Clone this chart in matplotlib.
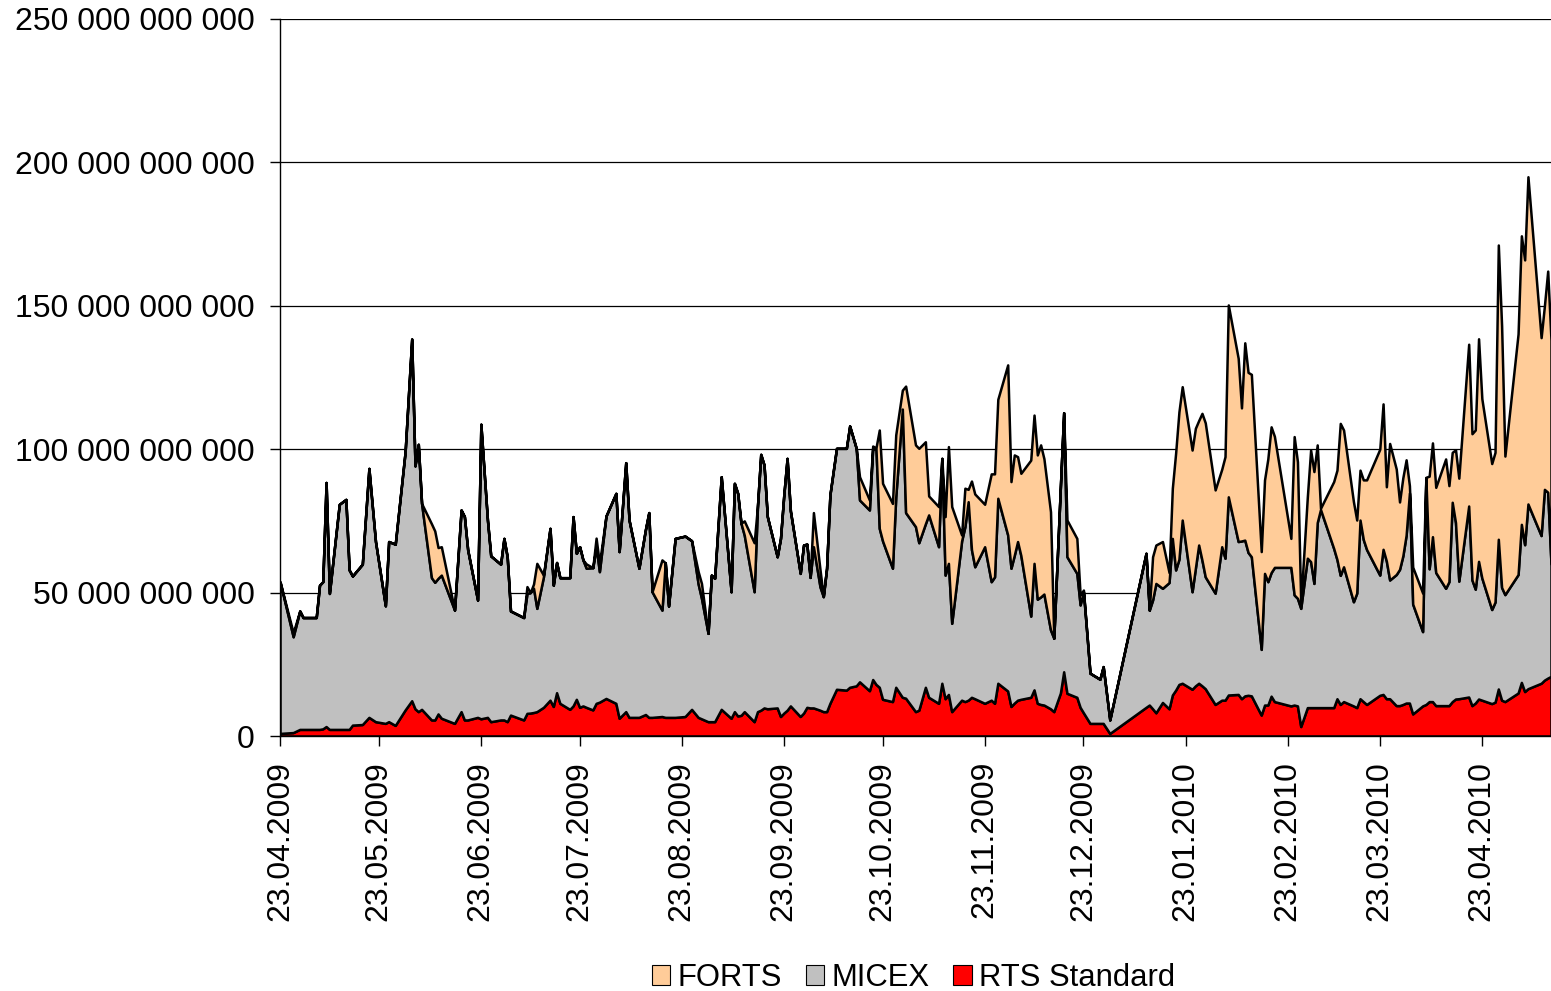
import numpy as np
import matplotlib
matplotlib.use('Agg')
import matplotlib.pyplot as plt
import matplotlib.dates as mdates
from matplotlib.patches import Patch
from matplotlib.ticker import FuncFormatter, MultipleLocator

plt.rcParams['font.family'] = ['Liberation Sans', 'DejaVu Sans']

# Daily trading volumes, billions of roubles (days counted from 23.04.2009)
start = np.datetime64('2009-04-23')
days = [0, 4, 6, 7, 11, 12, 13, 14, 15, 18,
        20, 21, 22, 25, 27, 29, 32, 33, 35, 38,
        40, 41, 42, 43, 46, 47, 48, 49, 53, 55,
        56, 57, 60, 61, 63, 64, 67, 68, 69, 70,
        74, 75, 76, 77, 78, 80, 82, 83, 84, 85,
        88, 89, 90, 91, 92, 93, 95, 96, 97, 99,
        102, 103, 105, 106, 109, 111, 112, 113, 116, 117,
        118, 120, 123, 125, 127, 128, 130, 131, 132, 134,
        137, 138, 139, 140, 141, 144, 145, 146, 147, 148,
        151, 152, 153, 154, 155, 158, 159, 160, 161, 162,
        164, 165, 166, 167, 169, 172, 173, 175, 176, 179,
        180, 181, 182, 183, 186, 187, 189, 190, 193, 194,
        196, 197, 200, 201, 202, 203, 204, 207, 208, 209,
        210, 211, 214, 216, 217, 218, 221, 222, 223, 224,
        225, 228, 229, 230, 231, 232, 234, 235, 237, 238,
        239, 242, 243, 244, 246, 249, 250, 252, 263, 264,
        265, 266, 268, 270, 271, 272, 273, 274, 277, 278,
        279, 280, 281, 284, 286, 287, 288, 291, 292, 293,
        294, 295, 298, 299, 300, 301, 302, 307, 308, 309,
        310, 312, 313, 314, 315, 316, 320, 321, 322, 323,
        326, 327, 328, 329, 330, 334, 335, 336, 337, 339,
        340, 341, 342, 343, 344, 347, 348, 349, 350, 351,
        354, 355, 356, 357, 358, 361, 362, 363, 364, 365,
        368, 369, 370, 371, 372, 376, 377, 378, 379, 383,
        384, 385, 386]

rts = [0.9, 1.2, 2.3, 2.3, 2.3, 2.3, 2.5, 3.3, 2.3, 2.3,
       2.3, 2.3, 3.8, 4.0, 6.5, 5.0, 4.4, 5.0, 3.7, 9.1,
       12.3, 9.5, 8.5, 9.3, 5.6, 5.6, 7.7, 6.2, 4.4, 8.5,
       5.6, 5.6, 6.5, 6.0, 6.5, 5.0, 5.6, 5.6, 5.0, 7.3,
       5.6, 7.9, 8.0, 8.2, 8.5, 10.0, 12.5, 10.3, 15.1, 11.4,
       9.3, 10.5, 12.8, 10.0, 10.5, 10.0, 9.1, 11.4, 11.8, 13.1,
       11.4, 6.2, 8.5, 6.5, 6.5, 7.5, 6.5, 6.5, 6.8, 6.5,
       6.5, 6.5, 6.8, 9.3, 6.5, 6.0, 5.0, 5.0, 5.0, 9.3,
       6.2, 8.5, 7.0, 7.2, 8.5, 5.0, 8.5, 9.0, 9.8, 9.5,
       9.8, 6.8, 8.0, 9.0, 10.5, 6.8, 8.0, 10.0, 9.8, 9.8,
       9.0, 8.5, 8.5, 11.4, 16.3, 16.0, 17.0, 17.5, 18.9, 15.8,
       19.7, 18.0, 17.0, 12.8, 12.0, 17.0, 13.5, 13.2, 8.5, 9.0,
       17.0, 13.5, 11.4, 18.4, 13.0, 14.5, 8.5, 12.5, 12.0, 12.5,
       13.5, 13.0, 11.4, 12.5, 11.4, 18.4, 15.7, 10.3, 11.5, 12.5,
       12.8, 13.5, 16.1, 11.4, 11.0, 10.8, 9.5, 8.5, 15.0, 22.4,
       14.9, 13.5, 10.0, 8.1, 4.4, 4.4, 4.4, 0.9, 10.0, 10.8,
       9.5, 8.1, 11.7, 9.5, 14.3, 16.0, 18.0, 18.4, 16.3, 17.5,
       18.4, 17.5, 16.5, 11.0, 12.5, 12.5, 14.3, 14.5, 13.0, 14.0,
       14.2, 14.0, 7.3, 10.8, 10.8, 13.9, 12.0, 10.5, 10.8, 10.5,
       3.3, 9.9, 9.9, 9.9, 9.9, 9.9, 9.9, 13.0, 11.0, 12.0,
       10.5, 9.9, 13.0, 12.0, 11.0, 14.2, 14.5, 13.0, 13.0, 10.6,
       10.6, 11.0, 11.5, 11.5, 7.7, 10.5, 11.0, 12.0, 12.0, 10.6,
       10.6, 10.6, 12.0, 12.9, 13.0, 13.6, 10.6, 11.5, 12.9, 12.5,
       11.3, 11.8, 16.4, 12.5, 12.0, 15.0, 18.7, 15.5, 16.5, 18.4,
       19.5, 20.2, 20.8]

micex = [52.9, 33.4, 41.3, 39.0, 39.0, 50.3, 51.3, 85.1, 47.4, 78.5,
         80.2, 55.6, 52.0, 55.9, 86.8, 62.8, 41.0, 62.8, 63.2, 90.0,
         126.1, 84.7, 93.2, 71.8, 49.6, 48.0, 47.3, 49.9, 39.5, 70.3,
         70.9, 59.3, 40.9, 102.7, 68.8, 57.8, 54.3, 63.3, 57.5, 36.3,
         35.7, 41.8, 42.0, 43.3, 36.0, 45.5, 59.9, 42.3, 45.4, 43.8,
         45.9, 66.0, 50.9, 56.0, 50.9, 48.5, 49.6, 54.6, 45.5, 63.6,
         73.2, 58.1, 86.8, 68.8, 52.0, 64.6, 71.4, 43.8, 37.1, 53.9,
         38.8, 62.4, 62.9, 58.8, 46.5, 42.0, 30.8, 51.1, 50.0, 81.1,
         44.1, 79.6, 77.6, 67.0, 61.5, 45.3, 71.5, 89.2, 84.7, 67.0,
         52.7, 62.1, 76.0, 87.8, 68.0, 49.9, 58.6, 56.9, 45.5, 56.2,
         43.0, 40.1, 50.0, 72.6, 84.0, 84.3, 91.1, 82.8, 63.4, 63.0,
         80.6, 82.0, 55.4, 55.2, 46.5, 66.4, 100.5, 64.7, 64.5, 58.4,
         57.0, 63.6, 54.6, 78.4, 43.1, 45.7, 30.8, 55.5, 61.0, 69.2,
         51.5, 46.0, 54.6, 41.3, 44.1, 64.5, 54.4, 48.2, 51.5, 55.3,
         50.1, 28.3, 44.1, 36.3, 37.5, 38.7, 27.5, 25.6, 71.9, 90.3,
         47.6, 43.2, 35.7, 42.2, 17.5, 15.4, 19.8, 4.7, 53.7, 33.1,
         37.9, 45.1, 39.8, 44.0, 54.6, 41.9, 43.6, 56.9, 34.0, 41.0,
         48.2, 43.8, 39.0, 38.8, 53.5, 49.5, 69.1, 53.3, 55.0, 54.3,
         49.8, 48.5, 22.9, 45.9, 43.0, 43.1, 46.8, 48.3, 38.4, 37.5,
         41.2, 52.1, 50.9, 43.3, 64.5, 69.1, 55.5, 48.5, 45.0, 47.0,
         36.3, 39.9, 62.3, 56.5, 54.0, 41.9, 50.6, 48.0, 41.4, 45.7,
         47.5, 51.8, 58.5, 73.2, 38.3, 25.9, 78.9, 46.3, 57.5, 46.4,
         40.9, 43.2, 69.5, 61.5, 41.0, 66.6, 43.8, 39.7, 48.0, 42.6,
         32.8, 34.9, 52.2, 39.3, 37.3, 41.3, 55.1, 51.2, 64.4, 51.5,
         66.5, 64.8, 39.2]

forts = [0, 1.4, 0, 0, 0, 0, 0, 0, 0, 0,
         0, 0, 0, 0, 0, 0, 0, 0, 0, 0,
         0, 0, 0, 0, 18.8, 17.9, 10.7, 9.9, 0, 0,
         0, 0, 0, 0, 0, 0, 0, 0, 0, 0,
         0, 2.4, 0, 1.5, 15.7, 0.6, 0, 0, 0, 0,
         0, 0, 0, 0, 0, 1.5, 0, 3.0, 2.7, 0,
         0, 0, 0, 0, 0, 0, 0, 0, 17.5, 0,
         0, 0, 0, 0, 4.3, 5.2, 0, 0, 0, 0,
         0, 0, 0, 0, 5.0, 17.1, 0, 0, 0, 0,
         0, 0, 0, 0, 0, 0, 0, 0, 0, 11.9,
         6.0, 0, 0, 0, 0, 0, 0, 0, 8.1, 3.5,
         0.8, 0.5, 34.3, 20.1, 22.6, 21.6, 6.6, 44.1, 28.5, 32.9,
         28.6, 6.6, 14.0, 0, 20.4, 40.7, 40.7, 2.1, 13.4, 4.3,
         23.9, 25.4, 14.8, 37.6, 35.9, 34.5, 59.3, 30.2, 35.0, 29.6,
         28.7, 54.4, 51.7, 50.3, 53.0, 47.2, 41.2, 0, 0, 0,
         12.8, 12.2, 3.5, 0.6, 0, 0, 0, 0, 0, 0,
         15.1, 13.4, 16.3, 3.5, 17.5, 40.7, 51.4, 46.5, 49.4, 48.8,
         43.4, 51.2, 53.7, 36.0, 27.0, 35.4, 66.9, 63.9, 46.4, 68.8,
         62.8, 63.6, 34.1, 32.6, 42.8, 50.8, 45.7, 10.1, 55.2, 47.6,
         1.5, 21.4, 38.9, 39.0, 27.1, 0.4, 23.3, 31.2, 53.0, 47.7,
         34.9, 25.5, 17.4, 20.8, 24.3, 43.9, 50.7, 25.9, 47.6, 36.8,
         23.5, 27.2, 26.3, 2.6, 12.9, 13.5, 0.3, 32.3, 32.7, 29.7,
         45.1, 33.5, 17.4, 25.4, 35.9, 56.4, 51.0, 55.5, 77.6, 62.5,
         50.9, 52.2, 102.6, 91.2, 48.3, 83.9, 100.6, 99.3, 114.1, 69.0,
         64.0, 77.1, 78.0]

series_names = ['RTS Standard', 'MICEX', 'FORTS']
series_colors = ['#FF0000', '#C0C0C0', '#FFCC99']

dates = start + np.array(days, dtype='timedelta64[D]')

fig = plt.figure(figsize=(15.51, 9.91), dpi=100)
ax = fig.add_axes([280 / 1551, 1 - 736 / 991, 1271 / 1551, 717 / 991])

ax.stackplot(dates, rts, micex, forts, colors=series_colors,
             edgecolor='black', linewidth=1.8)

ax.set_xlim(dates[0], dates[-1])
ax.set_ylim(0, 250)
ax.yaxis.set_major_locator(MultipleLocator(50))
ax.yaxis.set_major_formatter(
    FuncFormatter(lambda v, p: f'{int(round(v * 1e9)):,}'.replace(',', ' ')))
ax.xaxis.set_major_locator(mdates.MonthLocator(bymonthday=23))
ax.xaxis.set_major_formatter(mdates.DateFormatter('%d.%m.%Y'))

ax.set_axisbelow(True)
ax.yaxis.grid(True, color='black', linewidth=0.9)
for side in ['top', 'right']:
    ax.spines[side].set_visible(False)
for side in ['left', 'bottom']:
    ax.spines[side].set_color('black')
    ax.spines[side].set_linewidth(1.0)

ax.tick_params(axis='y', labelsize=23, length=7, width=1, pad=11)
ax.tick_params(axis='x', labelsize=23, length=7, width=1, pad=11,
               labelrotation=90)

handles = [Patch(facecolor=c, edgecolor='black', linewidth=0.8)
           for c in reversed(series_colors)]
fig.legend(handles, list(reversed(series_names)), loc='lower center',
           bbox_to_anchor=(0.589, -0.03), ncol=3, frameon=False,
           fontsize=22.3, handlelength=0.6, handleheight=0.6,
           handletextpad=0.25, columnspacing=0.75)

fig.savefig('out.png', dpi=100)
